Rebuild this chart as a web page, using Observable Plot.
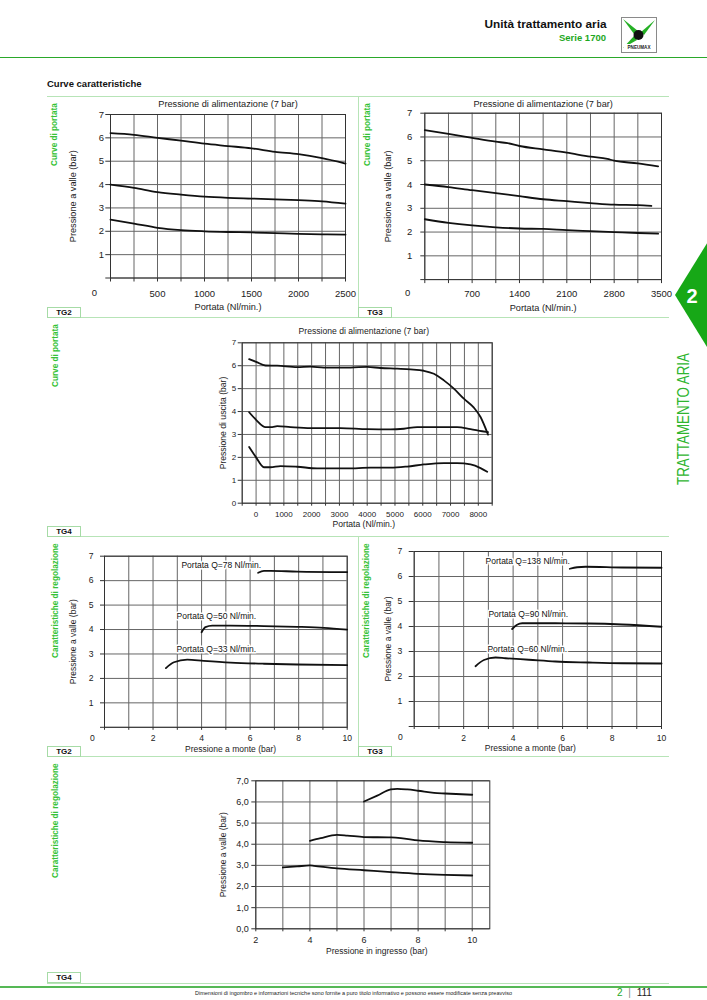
<!DOCTYPE html>
<html><head><meta charset="utf-8">
<script src="https://cdn.jsdelivr.net/npm/d3@7"></script>
<script src="https://cdn.jsdelivr.net/npm/@observablehq/plot@0.6"></script>
<style>
body{margin:0;background:#fff;font-family:"Liberation Sans",Arial,Helvetica,sans-serif;}
#page{position:relative;width:707px;height:1000px;overflow:hidden;background:#fff;}
.abs{position:absolute;}
.hl{position:absolute;background:#b7e4b7;height:1px;}
.vl{position:absolute;background:#b7e4b7;width:1px;}
.tag{position:absolute;box-sizing:border-box;width:34px;height:11px;border:1px solid #a6dba6;font-size:8px;font-weight:bold;text-align:center;line-height:9px;color:#111;background:#fff;}
.side{position:absolute;color:#36c236;font-weight:bold;font-size:8.2px;line-height:10px;transform-origin:0 0;transform:rotate(-90deg);white-space:nowrap;}
</style></head>
<body><div id="page"></div>
<script>
// ---------- DATA ----------
// TG2 - Curve di portata (x: Nl/min, y: bar)
const tg2FlowX    = [0,250,500,750,1000,1250,1500,1750,2000,2250,2500];
const tg2FlowHigh = [6.2,6.13,6.0,5.88,5.75,5.65,5.55,5.4,5.3,5.13,4.9];
const tg2FlowMid  = [4.0,3.86,3.68,3.57,3.48,3.43,3.4,3.37,3.33,3.28,3.18];
const tg2FlowLow  = [2.5,2.33,2.15,2.05,2.0,1.97,1.95,1.92,1.89,1.87,1.86];
const tg2FlowXLabels = [500,1000,1500,2000,2500];

// TG3 - Curve di portata
const tg3FlowHighX = [0,350,700,1050,1225,1400,1750,2100,2450,2700,2800,3150,3450];
const tg3FlowHigh  = [6.29,6.13,5.96,5.8,5.74,5.62,5.48,5.34,5.17,5.08,5.0,4.89,4.76];
const tg3FlowMidX  = [0,350,700,1050,1400,1750,2100,2450,2800,3150,3350];
const tg3FlowMid   = [4.0,3.89,3.76,3.64,3.51,3.38,3.3,3.22,3.15,3.13,3.1];
const tg3FlowLowX  = [0,350,700,1050,1400,1750,2100,2450,2800,3150,3450];
const tg3FlowLow   = [2.54,2.39,2.28,2.2,2.15,2.13,2.08,2.04,2.0,1.96,1.93];
const tg3FlowXLabels = [700,1400,2100,2800,3500];

// TG4 - Curve di portata
const tg4FlowHighX = [-250,0,340,760,1480,1960,2440,3400,4000,4480,5080,5560,6040,6400,6760,7120,7480,7840,8080,8350];
const tg4FlowHigh  = [6.29,6.17,6.01,6.0,5.94,5.96,5.92,5.92,5.95,5.9,5.87,5.84,5.78,5.65,5.36,5.0,4.56,4.17,3.76,2.99];
const tg4FlowMidX  = [-250,0,340,580,760,1240,1960,3040,4000,4840,5320,5800,6520,7240,7720,8140,8350];
const tg4FlowMid   = [3.97,3.64,3.32,3.32,3.36,3.32,3.28,3.28,3.23,3.22,3.25,3.32,3.32,3.32,3.23,3.14,3.1];
const tg4FlowLowX  = [-250,0,280,520,880,1480,2200,3280,4120,4840,5440,6040,6760,7240,7720,8080,8320];
const tg4FlowLow   = [2.45,2.0,1.57,1.57,1.62,1.59,1.52,1.52,1.55,1.55,1.6,1.69,1.75,1.75,1.69,1.53,1.37];
const tg4FlowXLabels = [0,1000,2000,3000,4000,5000,6000,7000,8000];

// TG2 - Caratteristiche di regolazione (x: pressione a monte, y: pressione a valle)
const tg2RegHighX = [6.33,6.57,6.84,7.94,10];
const tg2RegHigh  = [6.32,6.4,6.4,6.37,6.35];
const tg2RegMidX  = [4.0,4.16,4.44,5.19,6.57,7.94,9.04,10];
const tg2RegMid   = [3.89,4.1,4.16,4.16,4.14,4.11,4.07,4.0];
const tg2RegLowX  = [2.53,2.86,3.41,4.09,5.19,6.57,7.94,10];
const tg2RegLow   = [2.42,2.66,2.77,2.72,2.65,2.6,2.57,2.54];
const tg2RegNames = ["Portata Q=78 Nl/min.","Portata Q=50 Nl/min.","Portata Q=33 Nl/min."];
const tg2RegNameAt = [[4.81,6.62],[4.61,4.55],[4.61,3.18]];

// TG3 - Caratteristiche di regolazione
const tg3RegHighX = [6.29,6.59,6.93,8.41,10];
const tg3RegHigh  = [6.31,6.37,6.39,6.36,6.35];
const tg3RegMidX  = [3.96,4.16,4.37,5.71,7.06,8.41,10];
const tg3RegMid   = [3.9,4.07,4.13,4.13,4.12,4.08,3.99];
const tg3RegLowX  = [2.48,2.82,3.29,3.69,4.64,5.71,7.06,8.41,10];
const tg3RegLow   = [2.41,2.66,2.76,2.73,2.67,2.6,2.56,2.53,2.52];
const tg3RegNames = ["Portata Q=138 Nl/min.","Portata Q=90 Nl/min.","Portata Q=60 Nl/min."];
const tg3RegNameAt = [[4.59,6.6],[4.61,4.49],[4.57,3.09]];

// TG4 - Caratteristiche di regolazione
const tg4RegHighX = [6,6.49,6.99,7.23,7.6,8,8.59,9,10];
const tg4RegHigh  = [6.02,6.3,6.59,6.62,6.59,6.53,6.43,6.4,6.34];
const tg4RegMidX  = [4,4.4,5,5.38,6,7,7.36,8,9,10];
const tg4RegMid   = [4.16,4.29,4.44,4.41,4.34,4.32,4.29,4.18,4.1,4.07];
const tg4RegLowX  = [3,3.53,4,4.15,5,6,7,8,9,10];
const tg4RegLow   = [2.9,2.95,3.0,2.98,2.86,2.77,2.68,2.6,2.55,2.52];

const regXLabels = [2,4,6,8,10];
const yLabels1to7 = [1,2,3,4,5,6,7];
const yLabels0to7 = [0,1,2,3,4,5,6,7];

// ---------- HELPERS ----------
const GRID = "#666";
const FONT = "'Liberation Sans', Arial, Helvetica, sans-serif";
const page = document.getElementById("page");

function curveRows(defs) {
  return defs.flatMap(([name, xs, ys]) => xs.map((x, i) => ({name, x, y: ys[i]})));
}
function place(el, left, top, width) {
  const d = document.createElement("div");
  d.className = "abs";
  d.style.left = left + "px"; d.style.top = top + "px"; d.style.width = width + "px";
  d.appendChild(el); page.appendChild(d);
}
function html(tag, cls, styleStr, text) {
  const e = document.createElement(tag);
  if (cls) e.className = cls;
  if (styleStr) e.setAttribute("style", styleStr);
  if (text != null) e.textContent = text;
  page.appendChild(e); return e;
}

function chart(o) {
  const xs = new Set(o.xLabels), ys = new Set(o.yLabels);
  const lab = {textAnchor: "middle", lineAnchor: "middle", fontSize: o.titleFont, fill: "#222", text: d => d};
  const marks = [
    Plot.gridX(o.xGrid, {stroke: GRID, strokeOpacity: 1, strokeWidth: 1}),
    Plot.gridY(o.yGrid, {stroke: GRID, strokeOpacity: 1, strokeWidth: 1}),
    Plot.frame({stroke: "#333", strokeWidth: 1}),
    Plot.axisX(o.xGrid, {tickSize: o.xTick[0], tickPadding: o.xTick[1], stroke: "#333",
      tickFormat: d => xs.has(d) ? o.xFmt(d) : "", fontSize: o.tickFont, label: null}),
    Plot.axisY(o.yGrid, {tickSize: o.yTick[0], tickPadding: o.yTick[1], stroke: "#333",
      tickFormat: d => ys.has(d) ? o.yFmt(d) : "", fontSize: o.tickFont, label: null}),
    Plot.line(o.data, {x: "x", y: "y", z: "name", curve: "monotone-x", stroke: "#111", strokeWidth: 1.8}),
    Plot.text([o.xTitle], {...lab, frameAnchor: "bottom", dx: o.xTitleAt[0], dy: o.xTitleAt[1]}),
    Plot.text([o.yTitle], {...lab, frameAnchor: "left", rotate: -90, dx: o.yTitleAt[0], dy: o.yTitleAt[1]})
  ];
  if (o.topTitle) marks.push(Plot.text([o.topTitle], {...lab, frameAnchor: "top", dx: o.topTitleAt[0], dy: o.topTitleAt[1]}));
  if (o.zero) marks.push(Plot.axisY([0], {tickSize: 0, tickPadding: o.zero[0], dy: o.zero[1], fontSize: o.tickFont, tickFormat: d => String(d), label: null}));
  if (o.names) marks.push(Plot.text(o.names.map((n, i) => ({n, x: o.namesAt[i][0], y: o.namesAt[i][1]})),
      {x: "x", y: "y", text: "n", fontSize: 8.5, fill: "#111", stroke: "white", strokeWidth: 3}));
  const svg = Plot.plot({
    width: o.w, height: o.h,
    marginLeft: o.m[0], marginRight: o.m[1], marginTop: o.m[2], marginBottom: o.m[3],
    x: {domain: o.xDomain}, y: {domain: o.yDomain},
    style: {fontFamily: FONT, color: "#222", background: "transparent", overflow: "visible"},
    marks
  });
  place(svg, o.left, o.top, o.w);
}

const intFmt = d => String(d);

// ---------- PAGE DECORATION ----------
html("div", "abs", "right:100.5px;top:18px;font-size:11.8px;line-height:13px;font-weight:bold;color:#111;white-space:nowrap;", "Unità trattamento aria");
html("div", "abs", "right:101px;top:31.6px;font-size:9.5px;line-height:11px;font-weight:bold;color:#1ea81e;white-space:nowrap;", "Serie 1700");
const logo = html("div", "abs", "left:621px;top:17px;width:36px;height:36px;");
logo.innerHTML = `<svg width="36" height="36" viewBox="0 0 36 36">
<rect x="0.5" y="0.5" width="35" height="35" fill="#fff" stroke="#8a8a8a"/>
<path d="M2 2 L17 14 L13 17 Z" fill="#25b025"/>
<path d="M34 3 L20 15 L23 18 Z" fill="#25b025"/>
<path d="M2 31 L13 19 L16 23 Z" fill="#25b025"/>
<circle cx="17.5" cy="18" r="5" fill="#111"/>
<rect x="3" y="27" width="30" height="6" fill="#fff"/>
<text x="18" y="32" font-size="4.6" font-weight="bold" text-anchor="middle" font-family="Liberation Sans, Arial" fill="#222">PNEUMAX</text></svg>`;
html("div", "abs", "left:0;top:56.5px;width:707px;height:1.6px;background:#2aa82a;");
html("div", "abs", "left:47px;top:77.5px;font-size:9.5px;line-height:11px;font-weight:bold;color:#111;white-space:nowrap;", "Curve caratteristiche");

// panel lines
[96, 317, 536, 756, 983].forEach(y => html("div", "hl", `left:47px;top:${y - 0.5}px;width:622px;`));
html("div", "vl", "left:358px;top:96px;height:221px;");
html("div", "vl", "left:358px;top:536px;height:220px;");
[["TG2",47,307],["TG3",358,307],["TG4",47,526],["TG2",47,746],["TG3",358,746],["TG4",47,972]]
  .forEach(([t, x, y]) => html("div", "tag", `left:${x}px;top:${y}px;`, t));

// side labels
[["Curve di portata",49.5,166],["Curve di portata",363,166],["Curve di portata",51,387],
 ["Caratteristiche di regolazione",51,658],["Caratteristiche di regolazione",362,658],
 ["Caratteristiche di regolazione",51,878]]
  .forEach(([t, x, y]) => html("div", "side", `left:${x}px;top:${y}px;`, t));

// green tab
const tab = html("div", "abs", "left:670px;top:240px;width:37px;height:110px;");
tab.innerHTML = `<svg width="37" height="110"><path d="M37 3.3 L5 55 L37 107 Z" fill="#17a817"/>
<text x="22" y="62.5" font-size="20" font-weight="bold" fill="#fff" text-anchor="middle" font-family="Liberation Sans, Arial">2</text></svg>`;
html("div", "abs", "left:676px;top:485px;font-size:16px;line-height:16px;color:#2fb52f;white-space:nowrap;transform-origin:0 0;transform:rotate(-90deg) scale(0.834,1);", "TRATTAMENTO ARIA");

// footer
html("div", "abs", "left:0;top:985.5px;width:707px;height:2.4px;background:#55b855;");
html("div", "abs", "left:0;top:989.5px;width:707px;text-align:center;font-size:5.5px;line-height:7px;color:#222;white-space:nowrap;", "Dimensioni di ingombro e informazioni tecniche sono fornite a puro titolo informativo e possono essere modificate senza preavviso");
const pg = html("div", "abs", "left:617px;top:987px;font-size:10px;line-height:12px;white-space:nowrap;color:#222;");
pg.innerHTML = `<span style="color:#1ea81e">2</span><span style="color:#888;padding:0 3px"> |</span> 111`;

// ---------- CHARTS ----------
// A: TG2 flow
chart({
  left: 40, top: 96, w: 318, h: 222, m: [70, 13, 18, 40.5],
  xDomain: [0, 2500], yDomain: [0, 7],
  xGrid: d3.range(0, 2501, 250), yGrid: d3.range(0, 8, 1),
  xLabels: tg2FlowXLabels, yLabels: yLabels1to7, xFmt: intFmt, yFmt: intFmt,
  xTick: [4, 8], yTick: [4.7, 1.8], tickFont: 9.5, titleFont: 9.2,
  data: curveRows([["a", tg2FlowX, tg2FlowHigh], ["b", tg2FlowX, tg2FlowMid], ["c", tg2FlowX, tg2FlowLow]]),
  xTitle: "Portata (Nl/min.)", xTitleAt: [0, 29],
  yTitle: "Pressione a valle (bar)", yTitleAt: [-37, 0],
  topTitle: "Pressione di alimentazione (7 bar)", topTitleAt: [0, -10],
  zero: [13.5, 15]
});
// B: TG3 flow
chart({
  left: 358, top: 96, w: 311, h: 222, m: [66.3, 8, 16.7, 38.9],
  xDomain: [0, 3500], yDomain: [0, 7],
  xGrid: d3.range(0, 3501, 350), yGrid: d3.range(0, 8, 1),
  xLabels: tg3FlowXLabels, yLabels: yLabels1to7, xFmt: intFmt, yFmt: intFmt,
  xTick: [4, 6.3], yTick: [4, 8.5], tickFont: 9.5, titleFont: 9.2,
  data: curveRows([["a", tg3FlowHighX, tg3FlowHigh], ["b", tg3FlowMidX, tg3FlowMid], ["c", tg3FlowLowX, tg3FlowLow]]),
  xTitle: "Portata (Nl/min.)", xTitleAt: [0, 28],
  yTitle: "Pressione a valle (bar)", yTitleAt: [-36.3, 0],
  topTitle: "Pressione di alimentazione (7 bar)", topTitleAt: [0, -9],
  zero: [14.6, 13]
});
// C: TG4 flow
chart({
  left: 180, top: 318, w: 330, h: 218, m: [61.7, 18.3, 24.3, 33.3],
  xDomain: [-500, 8500], yDomain: [0, 7],
  xGrid: d3.range(-500, 8501, 500), yGrid: d3.range(0, 8, 1),
  xLabels: tg4FlowXLabels, yLabels: yLabels0to7, xFmt: intFmt, yFmt: intFmt,
  xTick: [3, 5], tickFont: 8, titleFont: 8.6, yTick: [4, 2],
  data: curveRows([["a", tg4FlowHighX, tg4FlowHigh], ["b", tg4FlowMidX, tg4FlowMid], ["c", tg4FlowLowX, tg4FlowLow]]),
  xTitle: "Portata (Nl/min.)", xTitleAt: [-3.4, 21.5],
  yTitle: "Pressione di uscita (bar)", yTitleAt: [-19, 0],
  topTitle: "Pressione di alimentazione (7 bar)", topTitleAt: [-3.4, -12]
});
// D: TG2 regulation
chart({
  left: 40, top: 536, w: 318, h: 220, m: [64, 11.3, 19.7, 29.2],
  xDomain: [0, 10], yDomain: [0, 7],
  xGrid: d3.range(0, 11, 1), yGrid: d3.range(0, 8, 1),
  xLabels: regXLabels, yLabels: yLabels1to7, xFmt: intFmt, yFmt: intFmt,
  xTick: [3, 5], yTick: [4, 7], tickFont: 8.6, titleFont: 8.5,
  data: curveRows([["a", tg2RegHighX, tg2RegHigh], ["b", tg2RegMidX, tg2RegMid], ["c", tg2RegLowX, tg2RegLow]]),
  xTitle: "Pressione a monte (bar)", xTitleAt: [4.7, 21.5],
  yTitle: "Pressione a valle (bar)", yTitleAt: [-31.3, 0],
  zero: [9.8, 10.5],
  names: tg2RegNames, namesAt: tg2RegNameAt
});
// E: TG3 regulation
chart({
  left: 358, top: 536, w: 311, h: 220, m: [55.7, 8, 15, 30],
  xDomain: [0, 10], yDomain: [0, 7],
  xGrid: d3.range(0, 11, 1), yGrid: d3.range(0, 8, 1),
  xLabels: regXLabels, yLabels: yLabels1to7, xFmt: intFmt, yFmt: intFmt,
  xTick: [3, 5], yTick: [5, 7], tickFont: 8.6, titleFont: 8.5,
  data: curveRows([["a", tg3RegHighX, tg3RegHigh], ["b", tg3RegMidX, tg3RegMid], ["c", tg3RegLowX, tg3RegLow]]),
  xTitle: "Pressione a monte (bar)", xTitleAt: [-7.5, 22],
  yTitle: "Pressione a valle (bar)", yTitleAt: [-26.4, 0],
  zero: [11.5, 11],
  names: tg3RegNames, namesAt: tg3RegNameAt
});
// F: TG4 regulation
chart({
  left: 190, top: 760, w: 310, h: 212, m: [65.3, 10.7, 20.3, 43.7],
  xDomain: [2, 10.65], yDomain: [0, 7],
  xGrid: d3.range(2, 11, 1), yGrid: d3.range(0, 8, 1),
  xLabels: regXLabels, yLabels: yLabels0to7, xFmt: intFmt, yFmt: d => d.toFixed(1).replace(".", ","),
  xTick: [3, 4.7], yTick: [4, 3], tickFont: 9, titleFont: 8.5,
  data: curveRows([["a", tg4RegHighX, tg4RegHigh], ["b", tg4RegMidX, tg4RegMid], ["c", tg4RegLowX, tg4RegLow]]),
  xTitle: "Pressione in ingresso (bar)", xTitleAt: [4, 22.7],
  yTitle: "Pressione a valle (bar)", yTitleAt: [-33, 0]
});
</script>
</body></html>
